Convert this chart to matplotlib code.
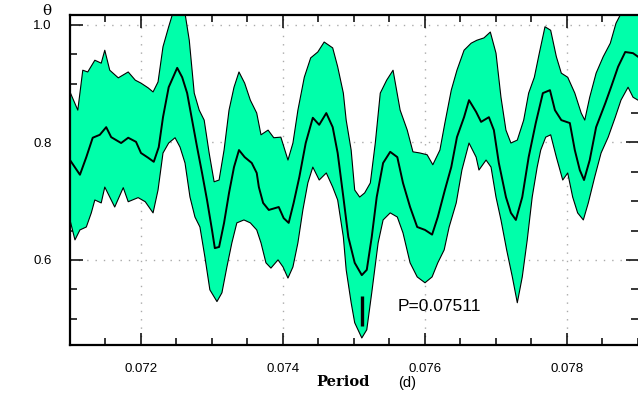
import numpy as np
import matplotlib
matplotlib.use("Agg")
import matplotlib.pyplot as plt
from matplotlib.ticker import MultipleLocator

# ============================================================
# DONNEES
# ============================================================
upper_p = [0.07100, 0.07111, 0.07118, 0.07125, 0.07135, 0.07144, 0.07149, 0.07156,
           0.07168, 0.07182, 0.07192, 0.07200, 0.07210, 0.07217, 0.07224, 0.07231,
           0.07239, 0.07246, 0.07255, 0.07262, 0.07268, 0.07275, 0.07282, 0.07289,
           0.07296, 0.07303, 0.07310, 0.07317, 0.07324, 0.07331, 0.07338, 0.07346,
           0.07354, 0.07363, 0.07369, 0.07379, 0.07387, 0.07397, 0.07407, 0.07414,
           0.07421, 0.07430, 0.07439, 0.07449, 0.07458, 0.07470, 0.07477, 0.07485,
           0.07489, 0.07496, 0.07501, 0.07508, 0.07515, 0.07523, 0.07530, 0.07537,
           0.07546, 0.07555, 0.07565, 0.07575, 0.07583, 0.07593, 0.07603, 0.07611,
           0.07621, 0.07628, 0.07637, 0.07645, 0.07655, 0.07665, 0.07673, 0.07683,
           0.07692, 0.07700, 0.07707, 0.07714, 0.07721, 0.07730, 0.07739, 0.07746,
           0.07754, 0.07761, 0.07769, 0.07777, 0.07785, 0.07792, 0.07801, 0.07811,
           0.07820, 0.07825, 0.07832, 0.07841, 0.07851, 0.07861, 0.07869, 0.07875,
           0.07886, 0.07900]
upper_t = [0.886, 0.855, 0.923, 0.920, 0.940, 0.935, 0.957, 0.923,
           0.910, 0.920, 0.906, 0.901, 0.893, 0.886, 0.903, 0.963,
           0.997, 1.025, 1.030, 1.020, 0.974, 0.884, 0.855, 0.838,
           0.782, 0.733, 0.736, 0.787, 0.855, 0.894, 0.920, 0.901,
           0.872, 0.850, 0.813, 0.821, 0.808, 0.809, 0.770, 0.799,
           0.855, 0.911, 0.944, 0.954, 0.971, 0.961, 0.929, 0.884,
           0.838, 0.787, 0.719, 0.707, 0.714, 0.731, 0.799, 0.884,
           0.906, 0.923, 0.855, 0.821, 0.784, 0.782, 0.779, 0.762,
           0.787, 0.833, 0.889, 0.923, 0.957, 0.969, 0.974, 0.978,
           0.988, 0.952, 0.877, 0.821, 0.799, 0.804, 0.838, 0.884,
           0.911, 0.952, 0.997, 0.991, 0.946, 0.918, 0.911, 0.884,
           0.850, 0.838, 0.877, 0.918, 0.946, 0.969, 1.003, 1.017,
           1.030, 1.040]

mid_p = [0.07100, 0.07114, 0.07123, 0.07132, 0.07142, 0.07151, 0.07158, 0.07172,
         0.07182, 0.07193, 0.07200, 0.07210, 0.07218, 0.07225, 0.07231, 0.07239,
         0.07251, 0.07258, 0.07265, 0.07272, 0.07279, 0.07286, 0.07293, 0.07300,
         0.07304, 0.07310, 0.07317, 0.07324, 0.07331, 0.07338, 0.07346, 0.07356,
         0.07363, 0.07366, 0.07372, 0.07380, 0.07394, 0.07401, 0.07408, 0.07415,
         0.07423, 0.07432, 0.07442, 0.07451, 0.07461, 0.07470, 0.07477, 0.07485,
         0.07492, 0.07501, 0.07511, 0.07518, 0.07525, 0.07532, 0.07541, 0.07551,
         0.07561, 0.07569, 0.07579, 0.07589, 0.07600, 0.07610, 0.07618, 0.07628,
         0.07637, 0.07645, 0.07655, 0.07662, 0.07672, 0.07679, 0.07690, 0.07697,
         0.07704, 0.07714, 0.07721, 0.07728, 0.07737, 0.07746, 0.07756, 0.07766,
         0.07776, 0.07783, 0.07792, 0.07804, 0.07811, 0.07818, 0.07824, 0.07832,
         0.07841, 0.07854, 0.07862, 0.07872, 0.07882, 0.07893, 0.07900]
mid_t = [0.770, 0.745, 0.775, 0.808, 0.813, 0.826, 0.809, 0.799,
         0.808, 0.801, 0.782, 0.774, 0.767, 0.792, 0.843, 0.894,
         0.927, 0.911, 0.884, 0.838, 0.792, 0.748, 0.702, 0.651,
         0.620, 0.622, 0.663, 0.714, 0.758, 0.787, 0.775, 0.765,
         0.748, 0.724, 0.697, 0.685, 0.690, 0.671, 0.663, 0.697,
         0.741, 0.799, 0.842, 0.830, 0.850, 0.826, 0.782, 0.707,
         0.639, 0.595, 0.574, 0.583, 0.639, 0.707, 0.765, 0.784,
         0.775, 0.731, 0.690, 0.656, 0.651, 0.643, 0.673, 0.719,
         0.758, 0.809, 0.843, 0.872, 0.852, 0.835, 0.843, 0.821,
         0.765, 0.707, 0.680, 0.668, 0.707, 0.775, 0.833, 0.884,
         0.889, 0.855, 0.838, 0.833, 0.787, 0.753, 0.736, 0.770,
         0.826, 0.867, 0.894, 0.929, 0.954, 0.952, 0.946]

lower_p = [0.07100, 0.07107, 0.07114, 0.07123, 0.07130, 0.07135, 0.07144, 0.07149,
           0.07156, 0.07163, 0.07175, 0.07182, 0.07196, 0.07206, 0.07217, 0.07224,
           0.07231, 0.07239, 0.07248, 0.07255, 0.07262, 0.07269, 0.07276, 0.07283,
           0.07290, 0.07297, 0.07307, 0.07314, 0.07321, 0.07328, 0.07335, 0.07345,
           0.07354, 0.07363, 0.07369, 0.07376, 0.07383, 0.07393, 0.07400, 0.07407,
           0.07414, 0.07421, 0.07428, 0.07435, 0.07442, 0.07451, 0.07461, 0.07470,
           0.07477, 0.07485, 0.07489, 0.07496, 0.07501, 0.07511, 0.07518, 0.07525,
           0.07534, 0.07541, 0.07551, 0.07561, 0.07569, 0.07579, 0.07589, 0.07600,
           0.07610, 0.07618, 0.07627, 0.07634, 0.07644, 0.07652, 0.07662, 0.07672,
           0.07676, 0.07686, 0.07693, 0.07700, 0.07707, 0.07715, 0.07723, 0.07730,
           0.07737, 0.07744, 0.07751, 0.07758, 0.07763, 0.07770, 0.07777, 0.07785,
           0.07794, 0.07801, 0.07808, 0.07815, 0.07823, 0.07830, 0.07839, 0.07848,
           0.07858, 0.07868, 0.07876, 0.07886, 0.07893, 0.07900]
lower_t = [0.668, 0.634, 0.651, 0.656, 0.680, 0.702, 0.697, 0.724,
           0.707, 0.690, 0.723, 0.699, 0.706, 0.699, 0.680, 0.719,
           0.782, 0.799, 0.808, 0.792, 0.765, 0.707, 0.673, 0.656,
           0.605, 0.549, 0.529, 0.544, 0.588, 0.629, 0.663, 0.668,
           0.663, 0.651, 0.629, 0.595, 0.586, 0.600, 0.588, 0.569,
           0.588, 0.629, 0.685, 0.731, 0.758, 0.736, 0.748, 0.724,
           0.702, 0.639, 0.583, 0.527, 0.493, 0.467, 0.481, 0.544,
           0.629, 0.668, 0.680, 0.673, 0.646, 0.595, 0.571, 0.561,
           0.571, 0.595, 0.617, 0.656, 0.697, 0.753, 0.799, 0.775,
           0.753, 0.770, 0.758, 0.707, 0.668, 0.617, 0.571, 0.527,
           0.571, 0.634, 0.707, 0.758, 0.787, 0.809, 0.813, 0.775,
           0.736, 0.748, 0.707, 0.680, 0.668, 0.697, 0.741, 0.782,
           0.809, 0.843, 0.872, 0.894, 0.877, 0.872]

best_period = 0.07511
marker_theta = [0.488, 0.539]

FILL = '#00FFAA'
NUM_FONT = 'Liberation Sans'

# ============================================================
# FIGURE
# ============================================================
fig = plt.figure(figsize=(6.38, 3.93), dpi=100)
ax = fig.add_axes([0.1097, 0.1221, 0.8903, 0.8397])

ax.fill(np.concatenate([upper_p, lower_p[::-1]]),
        np.concatenate([upper_t, lower_t[::-1]]),
        color=FILL, lw=0, zorder=2)
ax.plot(upper_p, upper_t, color='black', lw=0.8, zorder=3)
ax.plot(lower_p, lower_t, color='black', lw=0.8, zorder=3)
ax.plot(mid_p, mid_t, color='black', lw=1.4, zorder=3)
ax.plot([best_period, best_period], marker_theta, color='black', lw=2.4,
        solid_capstyle='butt', zorder=4)

ax.set_xlim(0.071, 0.079)
ax.set_ylim(0.455, 1.017)

ax.xaxis.set_major_locator(MultipleLocator(0.002))
ax.xaxis.set_minor_locator(MultipleLocator(0.0005))
ax.yaxis.set_major_locator(MultipleLocator(0.2))
ax.yaxis.set_minor_locator(MultipleLocator(0.05))
ax.xaxis.set_major_formatter(plt.FuncFormatter(lambda v, _: f'{v:.3f}'))
ax.yaxis.set_major_formatter(plt.FuncFormatter(lambda v, _: f'{v:.1f}'))

ax.tick_params(which='both', direction='in', top=True, right=True, width=1.1)
ax.tick_params(which='major', length=9, labelsize=9.5)
ax.tick_params(which='minor', length=5)
ax.tick_params(axis='x', which='major', pad=13)
ax.tick_params(axis='y', which='major', pad=13)
for lab in ax.get_xticklabels() + ax.get_yticklabels():
    lab.set_fontfamily(NUM_FONT)

for s in ['left', 'bottom', 'top']:
    ax.spines[s].set_linewidth(1.6)
ax.spines['right'].set_visible(False)

ax.set_axisbelow(True)
ax.grid(True, which='major', color='#AAAAAA', lw=1.0, linestyle=(0, (1, 5)))

fig.text(47 / 638, 1 - 11 / 393, 'θ', family='DejaVu Serif', fontsize=11,
         ha='center', va='center')
fig.text(343 / 638, 1 - 382 / 393, 'Period', family='DejaVu Serif',
         fontweight='bold', fontsize=10.5, ha='center', va='center')
fig.text(407 / 638, 1 - 383 / 393, '(d)', family=NUM_FONT, fontsize=10.5,
         ha='center', va='center')
ax.text(0.07562, 0.520, 'P=0.07511', family=NUM_FONT, fontsize=12.5,
        ha='left', va='center')

fig.savefig('out.png', dpi=100)
